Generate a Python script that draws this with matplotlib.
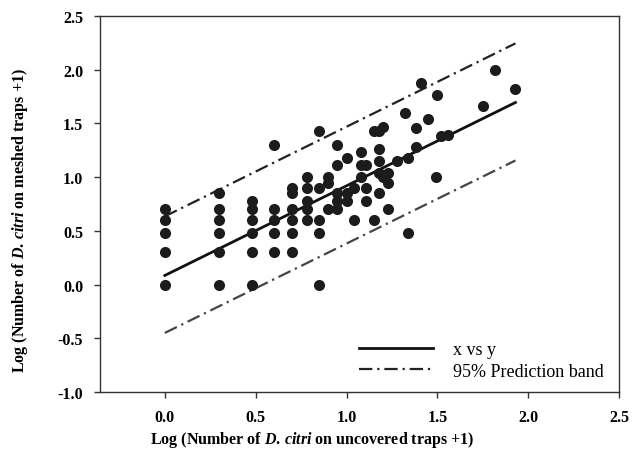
import matplotlib
matplotlib.use("Agg")
import matplotlib.pyplot as plt

plt.rcParams['font.family'] = ['Liberation Serif', 'DejaVu Serif']
plt.rcParams['mathtext.fontset'] = 'custom'
plt.rcParams['mathtext.rm'] = 'Liberation Serif:bold'
plt.rcParams['mathtext.it'] = 'Liberation Serif:italic:bold'
plt.rcParams['mathtext.bf'] = 'Liberation Serif:bold'

# observed points (log values)
x_obs = ([0.0]*5 + [0.30]*6 + [0.48]*6 + [0.60]*5 + [0.70]*6 + [0.78]*5 + [0.85]*5
         + [0.90]*3 + [0.95]*5 + [1.00]*3 + [1.04]*2 + [1.08]*3 + [1.11]*3 + [1.15]*2
         + [1.18]*5 + [1.20]*2 + [1.23]*3 + [1.28, 1.32, 1.34, 1.34, 1.38, 1.38, 1.41,
         1.45, 1.49, 1.50, 1.52, 1.56, 1.75, 1.82, 1.93])
y_obs = ([0.0, 0.30, 0.48, 0.60, 0.70]
         + [0.0, 0.30, 0.48, 0.60, 0.70, 0.85]
         + [0.0, 0.30, 0.48, 0.60, 0.70, 0.78]
         + [0.30, 0.48, 0.60, 0.70, 1.30]
         + [0.30, 0.48, 0.60, 0.70, 0.85, 0.90]
         + [0.60, 0.70, 0.78, 0.90, 1.00]
         + [0.0, 0.48, 0.60, 0.90, 1.43]
         + [0.70, 0.95, 1.00]
         + [0.70, 0.78, 0.85, 1.11, 1.30]
         + [0.78, 0.85, 1.18]
         + [0.60, 0.90]
         + [1.00, 1.11, 1.23]
         + [0.78, 0.90, 1.11]
         + [0.60, 1.43]
         + [0.85, 1.04, 1.15, 1.26, 1.43]
         + [1.00, 1.47]
         + [0.70, 0.95, 1.04]
         + [1.15, 1.60, 0.48, 1.18, 1.28, 1.46, 1.88,
            1.54, 1.00, 1.76, 1.38, 1.39, 1.66, 2.00, 1.82])

# fitted line and 95% prediction band
x_fit = [0.0, 1.93]
y_fit = [0.085, 1.695]
y_upper = [0.635, 2.245]
y_lower = [-0.45, 1.155]

x_ticks = [0.0, 0.5, 1.0, 1.5, 2.0, 2.5]
y_ticks = [-1.0, -0.5, 0.0, 0.5, 1.0, 1.5, 2.0, 2.5]

fig = plt.figure(figsize=(6.32, 4.64), dpi=100)
ax = fig.add_axes([100/632, 1-393/464, 519/632, 376/464])

ax.scatter(x_obs, y_obs, s=64, color='#1c1c1c', zorder=3, linewidths=0)
ax.plot(x_fit, y_fit, color='#111111', lw=2.0, label='x vs y', zorder=2)
band_style = (0, (6, 2.2, 1, 2.2))
ax.plot(x_fit, y_upper, color='#222222', lw=1.6, linestyle=band_style,
        label='95% Prediction band', zorder=2)
ax.plot(x_fit, y_lower, color='#444444', lw=1.6, linestyle=band_style, zorder=2)

ax.set_xlim(-0.357, 2.5)
ax.set_ylim(-1.0, 2.5)
ax.set_xticks(x_ticks)
ax.set_yticks(y_ticks)
ax.set_xticklabels([f"{v:.1f}" for v in x_ticks], fontweight='bold', fontsize=11.5)
ax.set_yticklabels([f"{v:.1f}" for v in y_ticks], fontweight='bold', fontsize=11.5)
ax.tick_params(direction='out', length=4, width=1, color='#333333', pad=8)
for s in ax.spines.values():
    s.set_color('#333333')
    s.set_linewidth(1.0)

fig.text(312/632, 1-440/464, r"Log (Number of $D.\,citri$ on uncovered traps +1)",
         fontweight='bold', fontsize=11.5, ha='center', va='center')
fig.text(20/632, 1-221/464, r"Log (Number of $D.\,citri$ on meshed traps +1)",
         fontweight='bold', fontsize=11.5, ha='center', va='center', rotation=90)

leg = ax.legend(loc='lower right', frameon=False, fontsize=13,
                handlelength=4.1, handletextpad=1.1, labelspacing=0.25,
                bbox_to_anchor=(1.002, -0.01))

fig.savefig('out.png', dpi=100)
